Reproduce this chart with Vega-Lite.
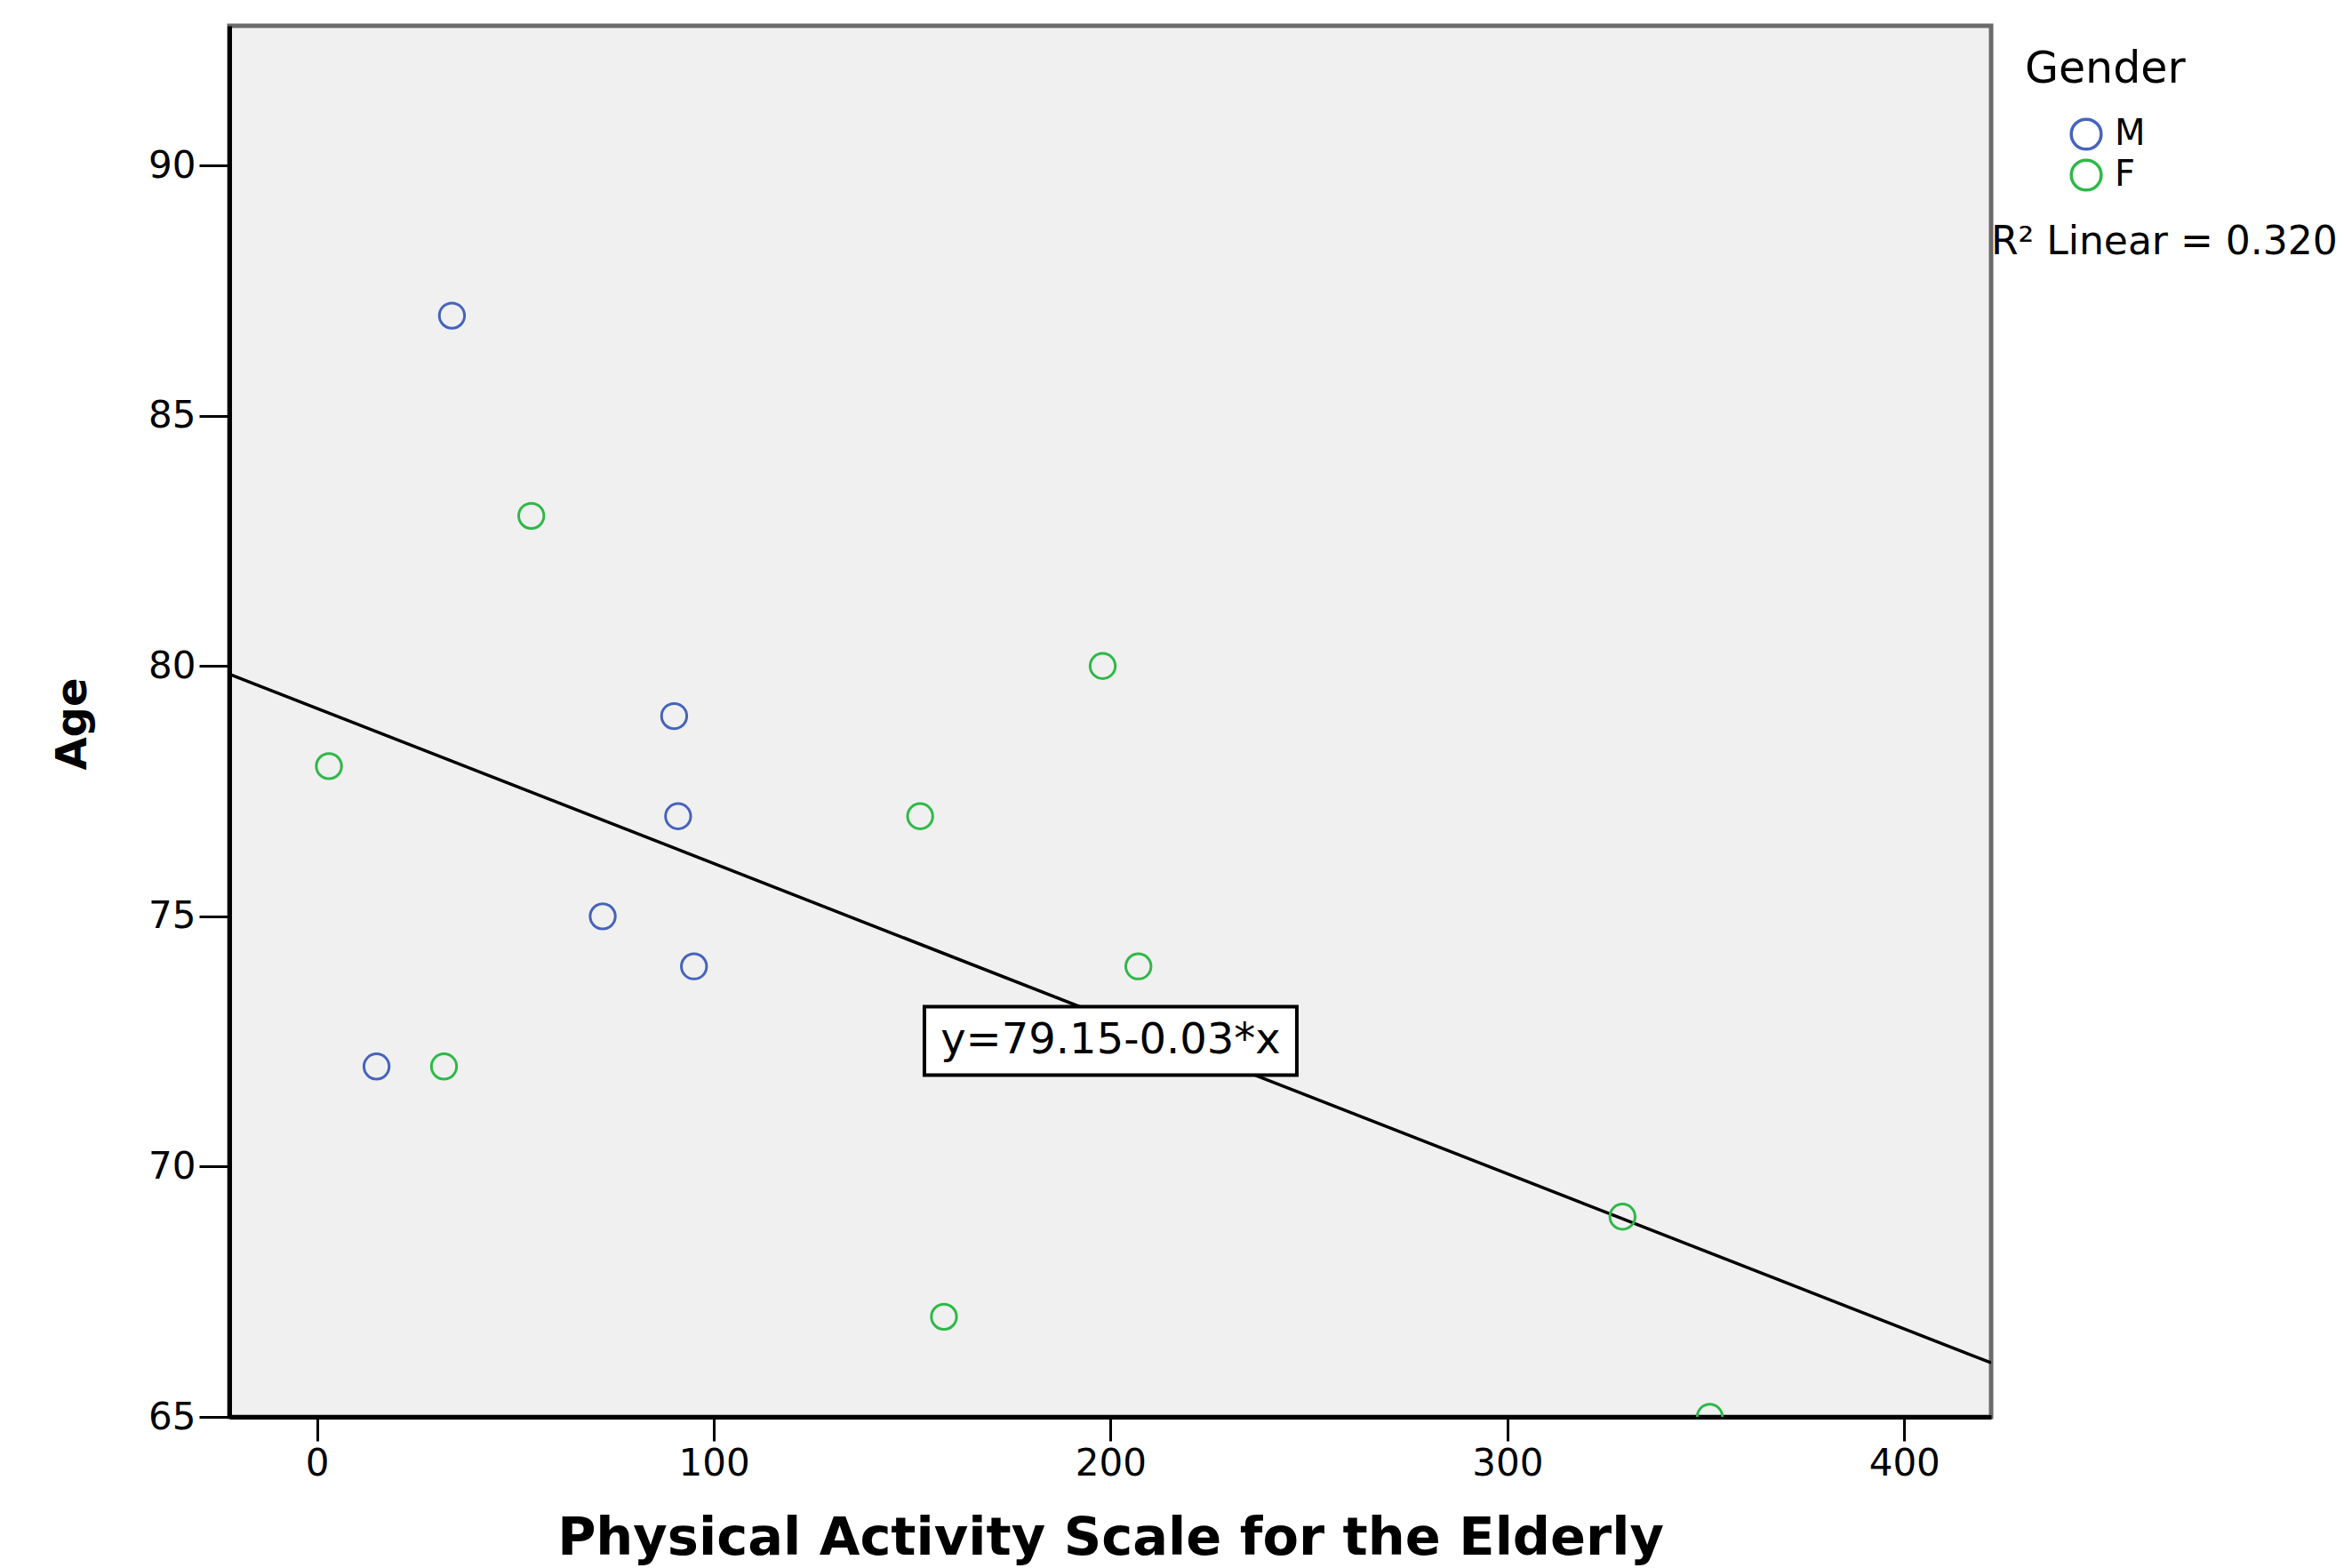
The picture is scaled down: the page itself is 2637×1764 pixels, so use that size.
{
  "$schema": "https://vega.github.io/schema/vega-lite/v6.json",
  "width": 1982,
  "height": 1565,
  "autosize": {"type": "none"},
  "padding": {"left": 258, "top": 29, "right": 397, "bottom": 170},
  "background": "white",
  "config": {
    "view": {"fill": "#f0f0f0", "stroke": "#6b6b6b", "strokeWidth": 5},
    "font": "DejaVu Sans"
  },
  "datasets": {
    "points": [
      {"gender": "M", "pase": 34, "age": 87},
      {"gender": "M", "pase": 90, "age": 79},
      {"gender": "M", "pase": 91, "age": 77},
      {"gender": "M", "pase": 72, "age": 75},
      {"gender": "M", "pase": 95, "age": 74},
      {"gender": "M", "pase": 15, "age": 72},
      {"gender": "F", "pase": 54, "age": 83},
      {"gender": "F", "pase": 3, "age": 78},
      {"gender": "F", "pase": 198, "age": 80},
      {"gender": "F", "pase": 152, "age": 77},
      {"gender": "F", "pase": 207, "age": 74},
      {"gender": "F", "pase": 32, "age": 72},
      {"gender": "F", "pase": 329, "age": 69},
      {"gender": "F", "pase": 158, "age": 67},
      {"gender": "F", "pase": 351, "age": 65}
    ],
    "notes": [
      {"kind": "eq", "label": "y=79.15-0.03*x", "pase": 200, "age": 72.51},
      {"kind": "r2", "label": "R² Linear = 0.320", "pase": 421.9, "age": 88.22}
    ]
  },
  "encoding": {
    "x": {
      "field": "pase",
      "type": "quantitative",
      "scale": {"domain": [-22.1, 421.9], "nice": false, "zero": false},
      "axis": {
        "title": "Physical Activity Scale for the Elderly",
        "values": [0, 100, 200, 300, 400],
        "grid": false,
        "domainColor": "black",
        "domainWidth": 5,
        "tickColor": "black",
        "tickWidth": 3,
        "tickSize": 27,
        "labelFont": "DejaVu Sans",
        "labelFontSize": 42,
        "labelColor": "black",
        "labelPadding": 5,
        "titleFont": "DejaVu Sans",
        "titleFontSize": 59,
        "titleFontWeight": "bold",
        "titleColor": "black",
        "titleBaseline": "alphabetic",
        "titleY": 154
      }
    },
    "y": {
      "field": "age",
      "type": "quantitative",
      "scale": {"domain": [65, 92.79], "nice": false, "zero": false},
      "axis": {
        "title": "Age",
        "values": [65, 70, 75, 80, 85, 90],
        "grid": false,
        "domainColor": "black",
        "domainWidth": 5,
        "tickColor": "black",
        "tickWidth": 3,
        "tickSize": 34,
        "labelFont": "DejaVu Sans",
        "labelFontSize": 42,
        "labelColor": "black",
        "labelPadding": 4,
        "titleFont": "DejaVu Sans",
        "titleFontSize": 48,
        "titleFontWeight": "bold",
        "titleColor": "black",
        "titleAngle": 270,
        "titleBaseline": "middle",
        "titleX": -176,
        "titleY": 785
      }
    }
  },
  "layer": [
    {
      "data": {"name": "points"},
      "transform": [{"regression": "age", "on": "pase", "extent": [-22.1, 421.9]}],
      "mark": {"type": "line", "color": "black", "strokeWidth": 3.5, "clip": true}
    },
    {
      "data": {"name": "points"},
      "mark": {"type": "point", "shape": "circle", "filled": false, "size": 804, "strokeWidth": 3, "opacity": 1, "clip": true},
      "encoding": {
        "color": {
          "field": "gender",
          "type": "nominal",
          "scale": {"domain": ["M", "F"], "range": ["#4563bd", "#2eb848"]},
          "legend": {
            "title": "Gender",
            "orient": "none",
            "legendX": 2020,
            "legendY": 25,
            "padding": 0,
            "titleFont": "DejaVu Sans",
            "titleFontSize": 49,
            "titleFontWeight": "normal",
            "titleColor": "black",
            "titleLimit": 500,
            "titlePadding": 28,
            "labelFont": "DejaVu Sans",
            "labelFontSize": 40,
            "labelColor": "black",
            "labelLimit": 300,
            "labelOffset": 12,
            "symbolType": "circle",
            "symbolSize": 1134,
            "symbolStrokeWidth": 3.5,
            "symbolOffset": 49,
            "rowPadding": -2
          }
        }
      }
    },
    {
      "data": {"name": "notes"},
      "transform": [{"filter": "datum.kind === 'eq'"}],
      "mark": {"type": "point", "shape": "M-1,-0.184H1V0.184H-1Z", "size": 175561, "filled": true, "fill": "white", "stroke": "black", "strokeWidth": 4, "opacity": 1}
    },
    {
      "data": {"name": "notes"},
      "transform": [{"filter": "datum.kind === 'eq'"}],
      "mark": {"type": "text", "font": "DejaVu Sans", "fontSize": 48, "color": "black", "align": "center", "baseline": "middle"},
      "encoding": {"text": {"field": "label"}}
    },
    {
      "data": {"name": "notes"},
      "transform": [{"filter": "datum.kind === 'r2'"}],
      "mark": {"type": "text", "font": "DejaVu Sans", "fontSize": 44, "color": "black", "align": "left", "baseline": "alphabetic", "clip": false},
      "encoding": {"text": {"field": "label"}}
    }
  ]
}
